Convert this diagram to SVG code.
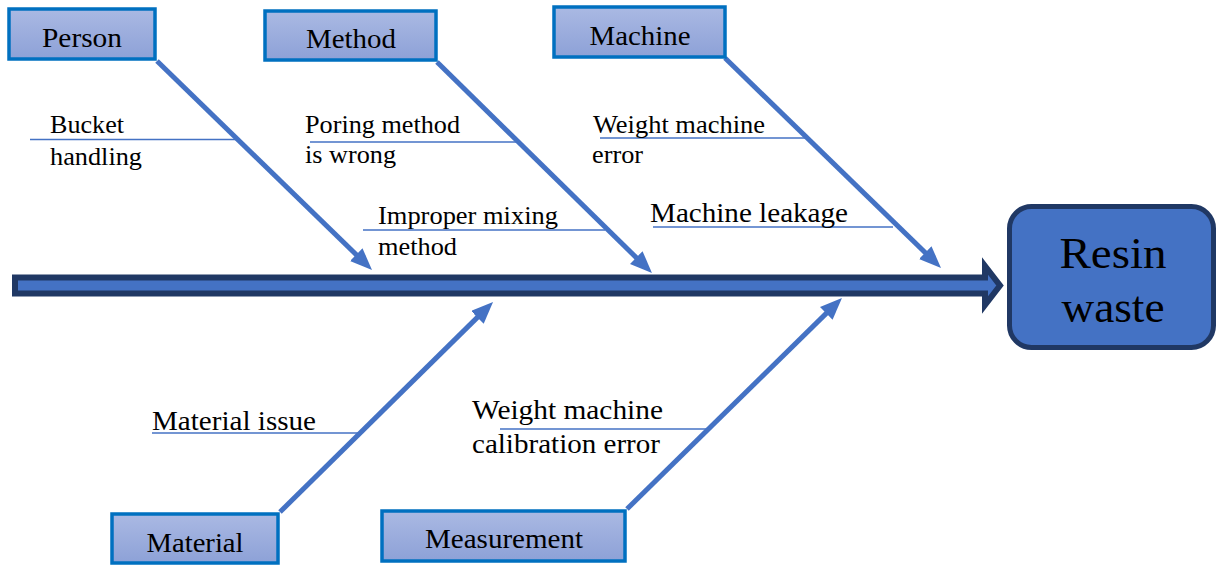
<svg xmlns="http://www.w3.org/2000/svg" width="1218" height="565" viewBox="0 0 1218 565">
<style>
.box{fill:url(#boxg);stroke:#0070C0;stroke-width:3.5}
.bl{font-family:"Liberation Serif","Times New Roman",serif;font-size:28px;fill:#000;text-anchor:middle}
.lb{font-family:"Liberation Serif","Times New Roman",serif;font-size:26px;fill:#000}
.lb2{font-family:"Liberation Serif","Times New Roman",serif;font-size:28px;fill:#000}
.rw{font-family:"Liberation Serif","Times New Roman",serif;font-size:44px;fill:#000;text-anchor:middle}
.bone{stroke:#4472C4;stroke-width:5;fill:none;marker-end:url(#ah)}
.ul{stroke:#4472C4;stroke-width:1.3}
</style>
<defs>
<linearGradient id="boxg" x1="0" y1="0" x2="0" y2="1">
<stop offset="0" stop-color="#AAB9E3"/>
<stop offset="1" stop-color="#8DA1D7"/>
</linearGradient>
<marker id="ah" markerUnits="userSpaceOnUse" markerWidth="22" markerHeight="18" viewBox="0 0 22 18" refX="10" refY="9" orient="auto">
<path d="M0,0 L22,9 L0,18 z" fill="#4472C4"/>
</marker>
</defs>

<g id="connectors">
<line class="ul" x1="30" y1="139.5" x2="236" y2="139.5"/>
<line class="ul" x1="310" y1="142" x2="516" y2="142"/>
<line class="ul" x1="363" y1="230" x2="605" y2="230"/>
<line class="ul" x1="600" y1="138" x2="806" y2="138"/>
<line class="ul" x1="653" y1="227" x2="893" y2="227"/>
<line class="ul" x1="152" y1="433" x2="360" y2="433"/>
<line class="ul" x1="500" y1="429" x2="707" y2="429"/>
<line class="bone" x1="157" y1="61" x2="363.4" y2="261.6"/>
<line class="bone" x1="437" y1="62" x2="643.4" y2="264.6"/>
<line class="bone" x1="725" y1="58" x2="932.4" y2="259.6"/>
<line class="bone" x1="280" y1="512" x2="484.5" y2="310.4"/>
<line class="bone" x1="627" y1="509" x2="833.4" y2="306.4"/>
<polygon id="spine" points="15,277.5 985,277.5 985,266 1000,285.5 985,305 985,293.5 15,293.5" fill="#4472C4" stroke="#203864" stroke-width="6" stroke-linejoin="miter"/>
</g>

<g id="labels">
<text class="lb" x="50" y="133" textLength="74" lengthAdjust="spacingAndGlyphs">Bucket</text>
<text class="lb" x="50" y="165" textLength="92" lengthAdjust="spacingAndGlyphs">handling</text>
<text class="lb" x="305" y="133" textLength="155" lengthAdjust="spacingAndGlyphs">Poring method</text>
<text class="lb" x="305" y="163" textLength="91" lengthAdjust="spacingAndGlyphs">is wrong</text>
<text class="lb" x="378" y="224" textLength="180" lengthAdjust="spacingAndGlyphs">Improper mixing</text>
<text class="lb" x="378" y="255" textLength="79" lengthAdjust="spacingAndGlyphs">method</text>
<text class="lb" x="593" y="133" textLength="172" lengthAdjust="spacingAndGlyphs">Weight machine</text>
<text class="lb" x="592" y="163" textLength="51" lengthAdjust="spacingAndGlyphs">error</text>
<text class="lb2" x="650" y="222" textLength="198" lengthAdjust="spacingAndGlyphs">Machine leakage</text>
<text class="lb2" x="152" y="430" textLength="164" lengthAdjust="spacingAndGlyphs">Material issue</text>
<text class="lb2" x="472" y="419" textLength="191" lengthAdjust="spacingAndGlyphs">Weight machine</text>
<text class="lb2" x="472" y="453" textLength="188" lengthAdjust="spacingAndGlyphs">calibration error</text>
</g>

<g id="person">
<rect class="box" x="9" y="9" width="146" height="50"/>
<text class="bl" x="82" y="47" textLength="80" lengthAdjust="spacingAndGlyphs">Person</text>
</g>
<g id="method">
<rect class="box" x="265" y="11" width="171" height="49"/>
<text class="bl" x="351" y="48" textLength="90" lengthAdjust="spacingAndGlyphs">Method</text>
</g>
<g id="machine">
<rect class="box" x="554" y="7" width="171" height="50"/>
<text class="bl" x="640" y="45" textLength="101" lengthAdjust="spacingAndGlyphs">Machine</text>
</g>
<g id="material">
<rect class="box" x="112" y="514" width="166" height="49"/>
<text class="bl" x="195" y="552" textLength="97" lengthAdjust="spacingAndGlyphs">Material</text>
</g>
<g id="measurement">
<rect class="box" x="382" y="511" width="243" height="50"/>
<text class="bl" x="504" y="548" textLength="158" lengthAdjust="spacingAndGlyphs">Measurement</text>
</g>
<g id="resin-waste">
<rect x="1009.5" y="206.5" width="204" height="141" rx="22" fill="#4472C4" stroke="#203864" stroke-width="5"/>
<text class="rw" x="1113" y="268" textLength="107" lengthAdjust="spacingAndGlyphs">Resin</text>
<text class="rw" x="1113" y="322" textLength="103" lengthAdjust="spacingAndGlyphs">waste</text>
</g>
</svg>
